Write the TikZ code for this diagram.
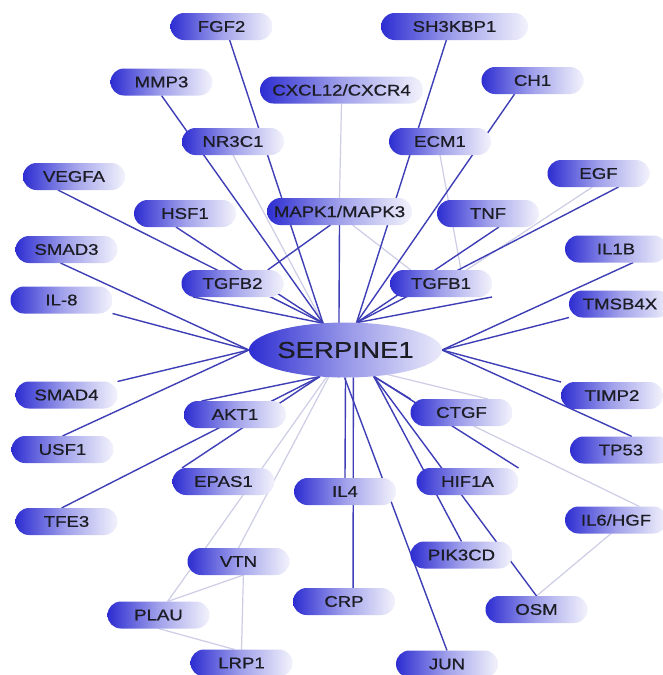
\documentclass[tikz,border=0pt]{standalone}
\usepackage{fontspec}
\newfontfamily\lab[FakeStretch=1.2,FakeBold=0.8]{Liberation Sans}
\newfontfamily\hublab[FakeStretch=1.2,FakeBold=0.4]{Liberation Sans}
\usetikzlibrary{shapes.geometric}
\definecolor{nb}{RGB}{45,45,210}
\definecolor{eb}{RGB}{62,62,182}
\definecolor{eg}{RGB}{205,205,230}
\definecolor{tx}{RGB}{28,28,36}
\pgfdeclarelayer{back}
\pgfdeclarelayer{edges}
\pgfsetlayers{back,edges,main}
\begin{document}
\begin{tikzpicture}[x=1pt,y=-1pt,
  gene/.style={rectangle, rounded corners=13.5pt, minimum width=102pt, minimum height=27pt,
    inner sep=0pt, outer sep=0pt, left color=nb, right color=nb!6, middle color=nb!45,
    font=\lab\fontsize{15.5}{16}\selectfont, text=tx},
  hub/.style={ellipse, minimum width=165pt, minimum height=55pt, inner sep=0pt, outer sep=0pt,
    left color=nb, right color=nb!10, middle color=nb!50,
    font=\hublab\fontsize{23}{24}\selectfont, text=tx},
  be/.style={draw=eb, line width=1.4pt},
  ge/.style={draw=eg, line width=1.2pt}]
\useasboundingbox (0,0) rectangle (662,675);
\begin{pgfonlayer}{back}
\fill[white] (0,0) rectangle (662,675);
\end{pgfonlayer}

% nodes
\node[hub] (S) at (345.5,350) {SERPINE1};
\node[gene] (FGF2) at (221.5,26.5) {FGF2};
\node[gene, minimum width=147pt] (SH3) at (454.5,26.5) {SH3KBP1};
\node[gene] (MMP3) at (161.5,82) {MMP3};
\node[gene, minimum width=163pt] (CXCL) at (341.5,90) {CXCL12/CXCR4};
\node[gene] (CH1) at (532.5,80.5) {CH1};
\node[gene] (NR3C1) at (233,141.5) {NR3C1};
\node[gene] (ECM1) at (440,141.5) {ECM1};
\node[gene] (VEGFA) at (74,176.5) {VEGFA};
\node[gene] (EGF) at (598.5,173.5) {EGF};
\node[gene] (HSF1) at (185,213.5) {HSF1};
\node[gene, minimum width=145pt] (MAPK) at (339.5,211.5) {MAPK1/MAPK3};
\node[gene] (TNF) at (488,213.5) {TNF};
\node[gene] (SMAD3) at (66.5,249.5) {SMAD3};
\node[gene] (IL1B) at (616,249) {IL1B};
\node[gene] (IL8) at (61.5,300) {IL-8};
\node[gene] (TGFB2) at (232.5,283.5) {TGFB2};
\node[gene] (TGFB1) at (441,283.5) {TGFB1};
\node[gene] (TMSB4X) at (620,304) {TMSB4X};
\node[gene] (SMAD4) at (66.5,395) {SMAD4};
\node[gene] (TIMP2) at (612,395.5) {TIMP2};
\node[gene] (AKT1) at (235,414.5) {AKT1};
\node[gene] (CTGF) at (461.5,412.5) {CTGF};
\node[gene] (USF1) at (62.5,449.5) {USF1};
\node[gene] (TP53) at (621,450) {TP53};
\node[gene] (EPAS1) at (223.5,481.5) {EPAS1};
\node[gene] (IL4) at (345,491.5) {IL4};
\node[gene] (HIF1A) at (467.5,481.5) {HIF1A};
\node[gene] (TFE3) at (66.5,521.5) {TFE3};
\node[gene] (IL6) at (616,520) {IL6/HGF};
\node[gene] (VTN) at (238.5,561.5) {VTN};
\node[gene] (PIK3CD) at (461.5,555) {PIK3CD};
\node[gene] (CRP) at (344,601.5) {CRP};
\node[gene] (OSM) at (536.5,609.5) {OSM};
\node[gene] (PLAU) at (158.5,615) {PLAU};
\node[gene] (LRP1) at (241.5,663) {LRP1};
\node[gene] (JUN) at (447,664) {JUN};

\begin{pgfonlayer}{edges}
% light edges
\draw[ge] (NR3C1.south) -- (S.130);
\draw[ge] (CXCL.south) -- (MAPK.north);
\draw[ge] (MAPK.314) -- (TGFB1.156);
\draw[ge] (ECM1.south) -- (TGFB1.34);
\draw[ge] (EGF.246) -- (TGFB1.28);
\draw[ge] (S.235) -- (PLAU.56);
\draw[ge] (S.238) -- (VTN.north);
\draw[ge] (PLAU.56) -- (VTN.290);
\draw[ge] (VTN.290) -- (LRP1.north);
\draw[ge] (PLAU.south) -- (LRP1.117);
\draw[ge] (S.330) -- (CTGF.27);
\draw[ge] (CTGF.312) -- (IL6.30);
\draw[ge] (IL6.250) -- (OSM.north);
% dark edges
\draw[be] (FGF2.301) -- (S.130);
\draw[be] (MMP3.south) -- (S.130);
\draw[be] (VEGFA.220) -- (S.130);
\draw[be] (HSF1.236) -- (S.130);
\draw[be] (TGFB2.199) -- (S.130);
\draw[be] (MAPK.south) -- (S.256);
\draw[be] (MAPK.236) -- (TGFB2.21);
\draw[be] (SH3.239) -- (S.68);
\draw[be] (CH1.217) -- (S.68);
\draw[be] (TNF.309) -- (S.68);
\draw[be] (EGF.326) -- (S.68);
\draw[be] (TGFB1.south east) -- (S.68);
\draw[be] (SMAD3.246) -- (S.west);
\draw[be] (IL8.south east) -- (S.west);
\draw[be] (SMAD4.north east) -- (S.west);
\draw[be] (USF1.north) -- (S.west);
\draw[be] (IL1B.322) -- (S.east);
\draw[be] (TMSB4X.south west) -- (S.east);
\draw[be] (TIMP2.north west) -- (S.east);
\draw[be] (TP53.51) -- (S.east);
\draw[be] (AKT1.158) -- (S.226);
\draw[be] (EPAS1.162) -- (S.226);
\draw[be] (TFE3.110) -- (S.226);
\draw[be] (S.south) -- (IL4.north);
\draw[be] (S.286) -- (CRP.56);
\draw[be] (S.268) -- (JUN.north);
\draw[be] (S.317) -- (CTGF.north west);
\draw[be] (S.317) -- (HIF1A.north east);
\draw[be] (S.317) -- (PIK3CD.north);
\draw[be] (S.317) -- (OSM.north);
\end{pgfonlayer}
\end{tikzpicture}
\end{document}
